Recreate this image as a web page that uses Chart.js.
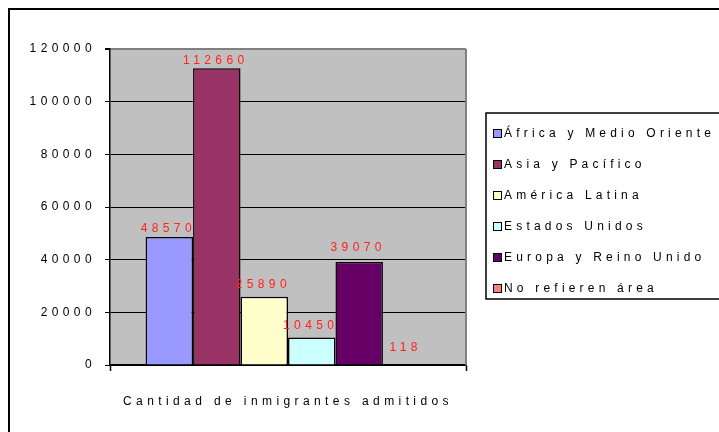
<!DOCTYPE html>
<html>
<head>
<meta charset="utf-8">
<script src="https://cdn.jsdelivr.net/npm/chart.js@4/dist/chart.umd.min.js"></script>
<style>
  html, body { margin: 0; padding: 0; background: #fff; }
  #c { display: block; }
</style>
</head>
<body>
<canvas id="c" width="719" height="432"></canvas>
<script>
// ---- Data ----
const categories = ['Cantidad de inmigrantes admitidos'];
const seriesNames = ['África y Medio Oriente', 'Asia y Pacífico', 'América Latina', 'Estados Unidos', 'Europa y Reino Unido', 'No refieren área'];
const seriesValues = [48570, 112660, 25890, 10450, 39070, 118];
const yTicks = [0, 20000, 40000, 60000, 80000, 100000, 120000];

// ---- Styles ----
const seriesColors = ['#9999FF', '#993366', '#FFFFCC', '#CCFFFF', '#660066', '#FF8080'];
const labelOffsets = [8, 8, 12, 12, 14, 17];
const FONT = '"Liberation Sans", Arial, sans-serif';
const NUM_SPACING = '4.4px';
const TEXT_SPACING = '4.2px';
const TITLE_SPACING = '3.6px';

const datasets = seriesNames.map((name, i) => ({
  label: name,
  data: [seriesValues[i]],
  backgroundColor: seriesColors[i],
  borderColor: '#000',
  borderWidth: 1.5,
  categoryPercentage: 0.8,
  barPercentage: 1.0
}));

const decorPlugin = {
  id: 'decor',
  beforeDraw(chart) {
    const ctx = chart.ctx;
    const a = chart.chartArea;
    ctx.save();
    ctx.fillStyle = '#fff';
    ctx.fillRect(0, 0, chart.width, chart.height);
    // outer border (top & left visible)
    ctx.strokeStyle = '#000';
    ctx.lineWidth = 2;
    ctx.beginPath();
    ctx.moveTo(9, chart.height + 5);
    ctx.lineTo(9, 9);
    ctx.lineTo(chart.width + 5, 9);
    ctx.stroke();
    // plot background
    ctx.fillStyle = '#C0C0C0';
    ctx.fillRect(a.left, a.top, a.right - a.left, a.bottom - a.top);
    ctx.restore();
    ctx.letterSpacing = NUM_SPACING;
  },
  afterDatasetsDraw(chart) {
    const ctx = chart.ctx;
    const a = chart.chartArea;
    ctx.save();
    // right plot border
    ctx.strokeStyle = '#808080';
    ctx.lineWidth = 2;
    ctx.beginPath();
    ctx.moveTo(a.right, a.top);
    ctx.lineTo(a.right, a.bottom);
    ctx.stroke();
    // data labels
    ctx.font = '12px ' + FONT;
    ctx.letterSpacing = NUM_SPACING;
    ctx.fillStyle = '#FF2020';
    ctx.textAlign = 'center';
    ctx.textBaseline = 'middle';
    chart.data.datasets.forEach((ds, i) => {
      const meta = chart.getDatasetMeta(i);
      meta.data.forEach((bar, j) => {
        const v = ds.data[j];
        ctx.fillText(String(v), bar.x - 1, bar.y - labelOffsets[i]);
      });
    });
    ctx.restore();
    ctx.letterSpacing = TITLE_SPACING;
  },
  afterDraw(chart) {
    const ctx = chart.ctx;
    ctx.save();
    // legend box
    ctx.strokeStyle = '#000';
    ctx.lineWidth = 1.5;
    ctx.strokeRect(486, 113, 260, 186);
    ctx.font = '12px ' + FONT;
    ctx.letterSpacing = TEXT_SPACING;
    ctx.textAlign = 'left';
    ctx.textBaseline = 'middle';
    chart.data.datasets.forEach((ds, i) => {
      const cy = 133.5 + 31 * i;
      ctx.fillStyle = ds.backgroundColor;
      ctx.fillRect(493, cy - 4.5, 9, 9);
      ctx.lineWidth = 1;
      ctx.strokeStyle = '#000';
      ctx.strokeRect(493.5, cy - 4, 8, 8);
      ctx.fillStyle = '#000';
      ctx.fillText(ds.label, 504, cy + 0.5);
    });
    ctx.restore();
    ctx.letterSpacing = '0px';
  }
};

new Chart(document.getElementById('c'), {
  type: 'bar',
  data: { labels: categories, datasets },
  plugins: [decorPlugin],
  options: {
    responsive: false,
    animation: false,
    devicePixelRatio: 1,
    layout: { padding: { left: 0, top: 49, right: 253, bottom: 0 } },
    plugins: { legend: { display: false }, tooltip: { enabled: false } },
    scales: {
      x: {
        offset: true,
        afterFit(scale) { scale.height = 67; },
        grid: {
          offset: true,
          drawOnChartArea: false,
          drawTicks: true,
          tickLength: 6,
          tickColor: '#000',
          tickWidth: 1.5
        },
        border: { display: true, color: '#000', width: 1.5 },
        ticks: {
          color: '#000',
          font: { family: FONT, size: 12 },
          padding: 23,
          maxRotation: 0,
          minRotation: 0,
          autoSkip: false,
          callback() { return this.getLabelForValue(0); }
        }
      },
      y: {
        min: 0,
        max: 120000,
        afterFit(scale) { scale.width = 110; },
        afterBuildTicks(scale) { scale.ticks = yTicks.map(v => ({ value: v })); },
        grid: {
          color: (c) => (c.tick && c.tick.value === 120000) ? '#808080' : '#000',
          lineWidth: (c) => (c.tick && c.tick.value === 120000) ? 2 : 1,
          tickColor: '#000',
          tickLength: 5,
          drawTicks: true
        },
        border: { display: true, color: '#000', width: 1.5 },
        ticks: {
          color: '#000',
          font: { family: FONT, size: 12 },
          padding: 9,
          callback: (v) => String(v)
        }
      }
    }
  }
});
</script>
</body>
</html>
